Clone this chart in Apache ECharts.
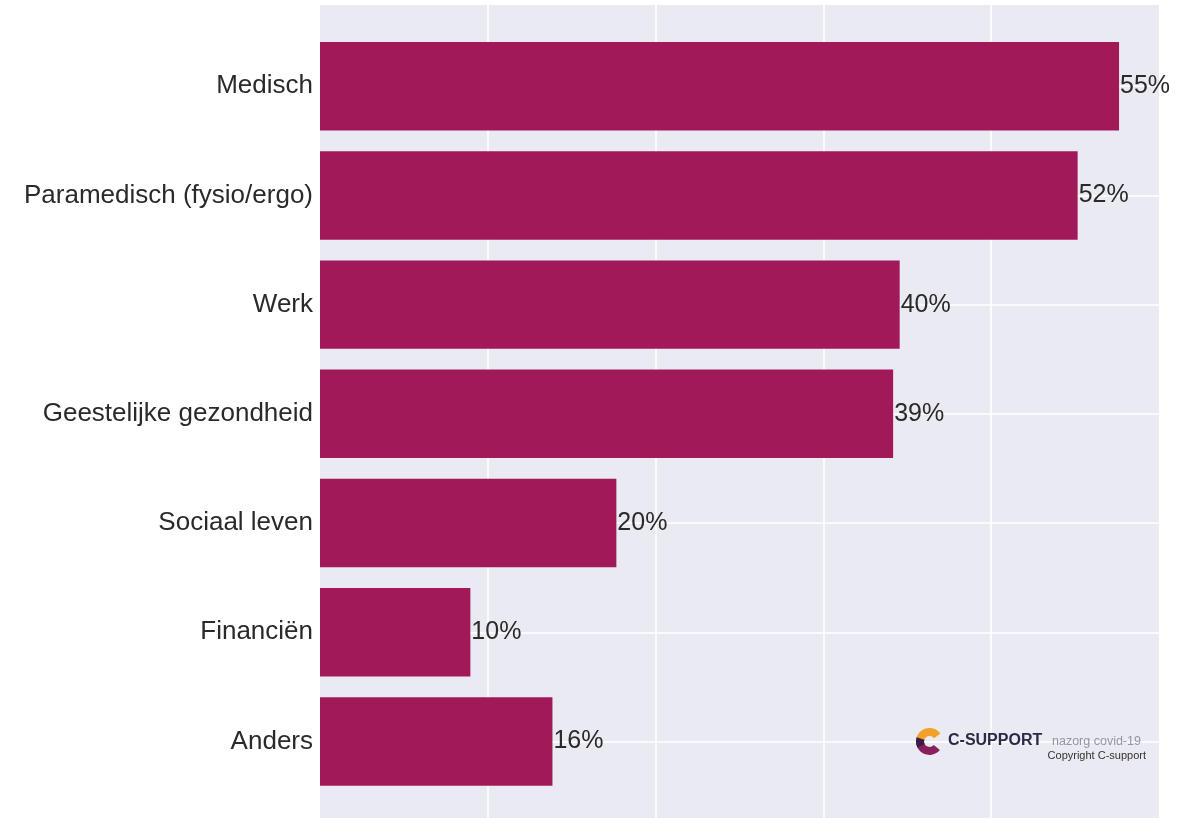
<!DOCTYPE html>
<html>
<head>
<meta charset="utf-8">
<script src="https://cdn.jsdelivr.net/npm/echarts@6/dist/echarts.min.js"></script>
<style>
html,body{margin:0;padding:0;background:#fff;}
#chart{width:1202px;height:819px;}
</style>
</head>
<body>
<div id="chart"></div>
<script>
const categories = ['Medisch', 'Paramedisch (fysio/ergo)', 'Werk', 'Geestelijke gezondheid', 'Sociaal leven', 'Financiën', 'Anders'];
const values = [55.0, 52.15, 39.9, 39.45, 20.4, 10.35, 16.0];
const valueLabels = ['55%', '52%', '40%', '39%', '20%', '10%', '16%'];
const xMax = 57.75;
const xInterval = 11.55;

const FONT = '"Liberation Sans", Arial, Helvetica, sans-serif';
const chart = echarts.init(document.getElementById('chart'), null, {renderer: 'canvas'});

const option = {
  animation: false,
  backgroundColor: '#ffffff',
  grid: [
    {left: 320, right: 43, top: 5, bottom: 1, show: true, backgroundColor: '#EAEAF2', borderWidth: 0},
    {left: 320, right: 43, top: 31.6, bottom: 22.9}
  ],
  xAxis: [
    {gridIndex: 0, type: 'value', min: 0, max: xMax, interval: xInterval,
     axisLine: {show: false}, axisTick: {show: false}, axisLabel: {show: false},
     splitLine: {show: true, showMinLine: false, showMaxLine: false, lineStyle: {color: '#ffffff', width: 1.6}}},
    {gridIndex: 1, type: 'value', min: 0, max: xMax, interval: xInterval, show: false}
  ],
  yAxis: [
    {gridIndex: 0, type: 'value', min: 0, max: 1, show: false},
    {gridIndex: 1, type: 'category', data: categories, inverse: true,
     axisLine: {show: false}, axisTick: {show: false}, splitLine: {show: false},
     axisLabel: {fontSize: 26, color: '#2a2a2a', margin: 7, fontFamily: FONT, padding: [4, 0, 0, 0]}}
  ],
  series: [
    {
      type: 'bar', xAxisIndex: 1, yAxisIndex: 1, data: values,
      barCategoryGap: '19%', z: 3,
      itemStyle: {color: '#A2195A'},
      label: {show: true, position: 'right', distance: 1, fontSize: 25, color: '#2a2a2a', fontFamily: FONT,
              padding: [4, 0, 0, 0],
              formatter: p => valueLabels[p.dataIndex]},
      markLine: {
        silent: true, symbol: 'none', z: 1, animation: false,
        label: {show: false},
        lineStyle: {color: '#ffffff', width: 1.6, type: 'solid'},
        data: categories.map(c => ({yAxis: c}))
      }
    }
  ],
  graphic: [
    {type: 'sector', z: 10, shape: {cx: 929.5, cy: 741.5, r0: 5.5, r: 13.5, startAngle: Math.PI * 0.22, endAngle: Math.PI * 1.12, clockwise: true},
     style: {fill: '#8A1F5E'}},
    {type: 'sector', z: 11, shape: {cx: 929.5, cy: 741.5, r0: 5.5, r: 13.5, startAngle: Math.PI * 1.02, endAngle: Math.PI * 1.8, clockwise: true},
     style: {fill: '#F2A22A'}},
    {type: 'sector', z: 12, shape: {cx: 929.5, cy: 741.5, r0: 5.5, r: 13.5, startAngle: Math.PI * 0.85, endAngle: Math.PI * 1.1, clockwise: true},
     style: {fill: '#3A1E48'}},
    {type: 'text', z: 10, style: {x: 948, y: 741, text: 'C-SUPPORT', font: 'bold 16px ' + FONT, fill: '#2C2948', verticalAlign: 'middle', align: 'left'}},
    {type: 'text', z: 10, style: {x: 1052, y: 742, text: 'nazorg covid-19', font: '12.5px ' + FONT, fill: '#9494A6', verticalAlign: 'middle', align: 'left'}},
    {type: 'text', z: 10, style: {x: 1146, y: 756, text: 'Copyright C-support', font: '11px ' + FONT, fill: '#333333', verticalAlign: 'middle', align: 'right'}}
  ]
};
chart.setOption(option);
</script>
</body>
</html>
